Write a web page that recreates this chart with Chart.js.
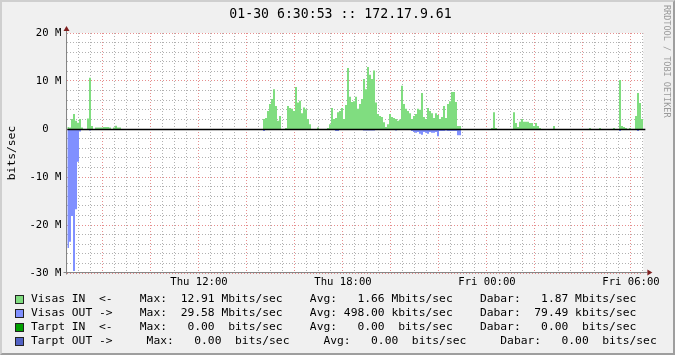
<!DOCTYPE html>
<html>
<head>
<meta charset="utf-8">
<title>172.17.9.61</title>
<script src="https://cdn.jsdelivr.net/npm/chart.js@4.4.1/dist/chart.umd.min.js"></script>
<style>
  html, body { margin: 0; padding: 0; background: #f0f0f0; }
  #wrap { position: relative; width: 675px; height: 355px; overflow: hidden;
          font-family: "DejaVu Sans Mono", monospace; color: #000; }
  #chart { position: absolute; left: 0; top: 0; }
  #frame { position: absolute; left: 0; top: 0; width: 675px; height: 355px; box-sizing: border-box;
           border: 2px solid; border-color: #cfcfcf #9e9e9e #9e9e9e #cfcfcf; pointer-events: none; }
  #title { position: absolute; left: 0; top: 6px; width: 681px; text-align: center;
           font-size: 13.2px; line-height: 16px; white-space: pre; }
  #mark { position: absolute; left: 662px; top: 5px; writing-mode: vertical-rl;
          font-size: 8.5px; line-height: 10px; color: #9a9a9a; white-space: pre; }
  .row { position: absolute; left: 0; height: 14px; line-height: 14px; font-size: 11.3px; white-space: pre; }
  .row .box { position: absolute; left: 15px; top: 3px; width: 9px; height: 9px;
              box-sizing: border-box; border: 1px solid #222; }
  .row .txt { position: absolute; left: 31px; top: 0; }
</style>
</head>
<body>
<div id="wrap">
  <canvas id="chart" width="675" height="355"></canvas>
  <div id="title">01-30 6:30:53 :: 172.17.9.61</div>
  <div id="mark">RRDTOOL / TOBI OETIKER</div>
  <div id="legend"></div>
  <div id="frame"></div>
</div>
<script>
// 5-minute bins from Thu 06:30, values in Mbit/s (one row = 2 hours)
const binStartHour = 6.5;
const binHours = 5 / 60;
const axisMinHour = 6.5 + 53 / 3600;   // Thu 06:30:53
const axisMaxHour = 30.5 + 53 / 3600;  // Fri 06:30:53

const visasIn = [
  0.4, 0.3, 2.1, 3.1, 1.7, 1.3, 2.1, 0.3, 0, 0, 2.2, 10.7, 0.6, 0, 0.3, 0.3, 0.3, 0.3, 0.4, 0.4, 0.4, 0.3, 0, 0.3,
  0.7, 0.3, 0.3, 0, 0, 0, 0, 0, 0, 0, 0, 0, 0, 0, 0, 0, 0, 0, 0, 0, 0, 0, 0, 0,
  0, 0, 0, 0, 0, 0, 0, 0, 0, 0, 0, 0, 0, 0, 0, 0, 0, 0, 0, 0, 0, 0, 0, 0,
  0, 0, 0, 0, 0, 0, 0, 0, 0, 0, 0, 0, 0, 0, 0, 0, 0, 0, 0, 0, 0, 0, 0, 0,
  0, 0, 2.1, 2.3, 3.75, 5.2, 6.25, 8.3, 4.8, 1.7, 2.7, 0, 0, 0.2, 4.8, 4.4, 4.2, 3.75, 8.75, 5.5, 5.9, 3.3, 4.5, 4.1,
  2.1, 1.0, 0, 0, 0, 0.3, 0, 0, 0, 0, 0.2, 1.0, 4.4, 2.1, 2.3, 3.5, 3.75, 4.4, 2.1, 5.0, 12.7, 6.7, 5.6, 5.8,
  6.7, 4.2, 5.2, 6.25, 10.4, 8.3, 12.9, 11.3, 10.4, 12.2, 5.5, 3.1, 2.7, 2.5, 1.4, 0.4, 1.0, 3.1, 2.5, 2.3, 2.1, 1.7, 2.0, 9.0,
  5.2, 4.2, 3.75, 3.3, 2.1, 2.7, 3.1, 4.2, 4.0, 7.5, 2.5, 2.1, 4.4, 3.75, 3.3, 2.3, 3.3, 2.9, 2.1, 2.5, 4.8, 2.3, 5.2, 5.8,
  7.7, 7.7, 5.6, 0.6, 0.6, 0, 0, 0, 0, 0, 0, 0, 0, 0, 0, 0, 0, 0, 0, 0, 0.2, 3.5, 0.2, 0,
  0, 0, 0, 0, 0, 0, 0, 3.5, 1.25, 0.4, 1.5, 2.1, 1.5, 1.5, 1.5, 1.25, 1.25, 0.6, 1.25, 0.6, 0.2, 0, 0, 0,
  0, 0, 0, 0.6, 0, 0, 0, 0, 0, 0, 0, 0, 0, 0, 0, 0, 0, 0, 0, 0, 0, 0.2, 0, 0,
  0, 0, 0.2, 0, 0, 0, 0, 0, 0, 0.2, 0, 0, 10.2, 0.6, 0.4, 0.2, 0, 0.2, 0, 0, 2.7, 7.5, 5.4, 2.1
];

// outgoing traffic, drawn below zero
const visasOut = [
  24.8, 23.5, 18.1, 29.6, 16.7, 6.8, 0.5, 0, 0, 0, 0, 0.3, 0, 0, 0, 0, 0, 0, 0, 0, 0, 0, 0, 0,
  0, 0, 0, 0, 0, 0, 0, 0, 0, 0, 0, 0, 0, 0, 0, 0, 0, 0, 0, 0, 0, 0, 0, 0,
  0, 0, 0, 0, 0, 0, 0, 0, 0, 0, 0, 0, 0, 0, 0, 0, 0, 0, 0, 0, 0, 0, 0, 0,
  0, 0, 0, 0, 0, 0, 0, 0, 0, 0, 0, 0, 0, 0, 0, 0, 0, 0, 0, 0, 0, 0, 0, 0,
  0, 0, 0.4, 0, 0, 0, 0, 0, 0, 0, 0, 0, 0, 0, 0, 0, 0, 0, 0, 0, 0, 0, 0, 0,
  0, 0, 0, 0, 0, 0, 0, 0, 0, 0, 0, 0, 0, 0, 0.4, 0.4, 0, 0, 0, 0, 0, 0, 0, 0,
  0, 0, 0, 0, 0.3, 0.3, 0.3, 0.3, 0.3, 0.3, 0, 0, 0, 0, 0, 0, 0, 0, 0, 0, 0.3, 0, 0, 0,
  0, 0, 0, 0, 0.4, 0.6, 0.8, 0.6, 1.0, 1.2, 0.6, 0.8, 1.0, 0.6, 0.8, 0.8, 0.6, 1.5, 0.4, 0.4, 0.4, 0.3, 0.4, 0.4,
  0.4, 0.4, 0.4, 1.3, 1.3, 0, 0, 0, 0, 0, 0, 0, 0, 0, 0, 0, 0, 0, 0, 0, 0, 0, 0, 0,
  0, 0, 0, 0, 0, 0, 0, 0, 0, 0, 0, 0, 0, 0, 0, 0, 0, 0, 0, 0, 0, 0, 0, 0,
  0, 0, 0, 0, 0, 0, 0, 0, 0, 0, 0, 0, 0, 0, 0, 0, 0, 0, 0, 0, 0, 0, 0, 0,
  0, 0, 0, 0, 0, 0, 0, 0, 0, 0, 0, 0, 0.4, 0, 0, 0, 0, 0, 0, 0, 0, 0.4, 0, 0
];

// axis labels
const xLabelHours = [12, 18, 24, 30];
const xLabelTexts = ['Thu 12:00', 'Thu 18:00', 'Fri 00:00', 'Fri 06:00'];
const yLabelValues = [20, 10, 0, -10, -20, -30];
const yLabelTexts = ['20 M', '10 M', '0  ', '-10 M', '-20 M', '-30 M'];

// legend (GPRINT lines)
const legendNames = ['Visas IN  <-', 'Visas OUT ->', 'Tarpt IN  <-', 'Tarpt OUT ->'];
const legendColors = ['#80dd80', '#8090ff', '#00a000', '#5262c4'];
const legendMax = ['12.91', '29.58', '0.00', '0.00'];
const legendMaxPrefix = ['M', 'M', ' ', ' '];
const legendAvg = ['1.66', '498.00', '0.00', '0.00'];
const legendAvgPrefix = ['M', 'k', ' ', ' '];
const legendLast = ['1.87', '79.49', '0.00', '0.00'];
const legendLastPrefix = ['M', 'k', ' ', ' '];
const legendGap = [4, 4, 4, 5];

const colorIn = '#80dd80';
const colorOut = '#8090ff';
const gridMinor = 'rgba(125, 125, 125, 0.6)';
const gridMajor = 'rgba(210, 50, 50, 0.55)';

// stepped area points: each bin holds its value until the next bin starts
function stepPoints(values, sign) {
  const pts = values.map((v, j) => ({ x: binStartHour + j * binHours, y: sign * v }));
  pts.push({ x: binStartHour + values.length * binHours, y: sign * values[values.length - 1] });
  return pts;
}

function buildLegend() {
  const box = document.getElementById('legend');
  legendNames.forEach((name, i) => {
    const gap = ' '.repeat(legendGap[i]);
    const text = name +
      gap + 'Max: ' + legendMax[i].padStart(6) + ' ' + legendMaxPrefix[i] + 'bits/sec' +
      gap + 'Avg: ' + legendAvg[i].padStart(6) + ' ' + legendAvgPrefix[i] + 'bits/sec' +
      gap + 'Dabar: ' + legendLast[i].padStart(6) + ' ' + legendLastPrefix[i] + 'bits/sec';
    const row = document.createElement('div');
    row.className = 'row';
    row.style.top = (292 + 14 * i) + 'px';
    const swatch = document.createElement('span');
    swatch.className = 'box';
    swatch.style.background = legendColors[i];
    const label = document.createElement('span');
    label.className = 'txt';
    label.textContent = text;
    row.appendChild(swatch);
    row.appendChild(label);
    box.appendChild(row);
  });
}

// white canvas, zero rule, axes and arrows in the rrdtool manner
const rrdFrame = {
  id: 'rrdFrame',
  beforeDraw(chart) {
    const { ctx, chartArea: a } = chart;
    ctx.save();
    ctx.fillStyle = '#ffffff';
    ctx.fillRect(a.left, a.top, a.right - a.left, a.bottom - a.top);
    ctx.restore();
  },
  afterDatasetsDraw(chart) {
    const { ctx, chartArea: a, scales } = chart;
    const y0 = scales.y.getPixelForValue(0) + 0.5;
    const ax = Math.round(a.left) - 0.5;
    const ay = Math.round(a.bottom) - 0.5;
    ctx.save();
    ctx.strokeStyle = '#000000';
    ctx.lineWidth = 1.6;
    ctx.beginPath();
    ctx.moveTo(a.left, y0);
    ctx.lineTo(a.right + 2, y0);
    ctx.stroke();

    ctx.strokeStyle = '#858585';
    ctx.lineWidth = 1;
    ctx.beginPath();
    ctx.moveTo(ax, a.top - 4);
    ctx.lineTo(ax, ay + 2);
    ctx.moveTo(ax - 3, ay);
    ctx.lineTo(a.right + 4, ay);
    ctx.stroke();

    ctx.fillStyle = '#7f1f1f';
    ctx.beginPath();
    ctx.moveTo(ax, a.top - 7);
    ctx.lineTo(ax - 3, a.top - 2);
    ctx.lineTo(ax + 3, a.top - 2);
    ctx.closePath();
    ctx.fill();
    ctx.beginPath();
    ctx.moveTo(a.right + 9, ay);
    ctx.lineTo(a.right + 4, ay - 3);
    ctx.lineTo(a.right + 4, ay + 3);
    ctx.closePath();
    ctx.fill();
    ctx.restore();
  }
};

const xGridHours = [];
for (let h = 7; h <= axisMaxHour; h += 0.5) xGridHours.push(h);
const yGridValues = [];
for (let v = -30; v <= 20; v += 2) yGridValues.push(v);

Chart.defaults.font.family = '"DejaVu Sans Mono", monospace';
Chart.defaults.color = '#000';

new Chart(document.getElementById('chart'), {
  type: 'line',
  data: {
    datasets: [
      {
        label: 'Visas IN',
        data: stepPoints(visasIn, 1),
        stepped: 'before',
        fill: 'origin',
        backgroundColor: colorIn,
        borderColor: 'rgba(0,0,0,0)',
        borderWidth: 0,
        pointRadius: 0
      },
      {
        label: 'Visas OUT',
        data: stepPoints(visasOut, -1),
        stepped: 'before',
        fill: 'origin',
        backgroundColor: colorOut,
        borderColor: 'rgba(0,0,0,0)',
        borderWidth: 0,
        pointRadius: 0
      }
    ]
  },
  options: {
    responsive: false,
    devicePixelRatio: 1,
    animation: false,
    events: [],
    layout: { padding: { left: 0, top: 33, right: 675 - 643.35, bottom: 0 } },
    plugins: {
      legend: { display: false },
      title: { display: false },
      tooltip: { enabled: false }
    },
    scales: {
      x: {
        type: 'linear',
        min: axisMinHour,
        max: axisMaxHour,
        afterBuildTicks: scale => { scale.ticks = xGridHours.map(v => ({ value: v })); },
        afterFit: scale => { scale.height = 82; },
        ticks: {
          autoSkip: false,
          maxRotation: 0,
          minRotation: 0,
          padding: 3,
          font: { size: 10.6 },
          callback: value => {
            const i = xLabelHours.indexOf(value);
            return i >= 0 ? xLabelTexts[i] : '';
          }
        },
        grid: {
          drawTicks: false,
          lineWidth: 1,
          color: ctx => (ctx.tick && ctx.tick.value % 2 === 0) ? gridMajor : gridMinor
        },
        border: { display: false, dash: [1, 2] }
      },
      y: {
        type: 'linear',
        min: -30,
        max: 20,
        afterBuildTicks: scale => { scale.ticks = yGridValues.map(v => ({ value: v })); },
        afterFit: scale => { scale.width = 67.35; },
        ticks: {
          autoSkip: false,
          padding: 6,
          font: { size: 10.6 },
          callback: value => {
            const i = yLabelValues.indexOf(value);
            return i >= 0 ? yLabelTexts[i] : '';
          }
        },
        title: {
          display: true,
          text: 'bits/sec',
          font: { size: 11.3 },
          padding: { top: 5, bottom: 0 }
        },
        grid: {
          drawTicks: false,
          lineWidth: 1,
          color: ctx => (ctx.tick && ctx.tick.value % 10 === 0) ? gridMajor : gridMinor
        },
        border: { display: false, dash: [1, 2] }
      }
    }
  },
  plugins: [rrdFrame]
});

buildLegend();
</script>
</body>
</html>
